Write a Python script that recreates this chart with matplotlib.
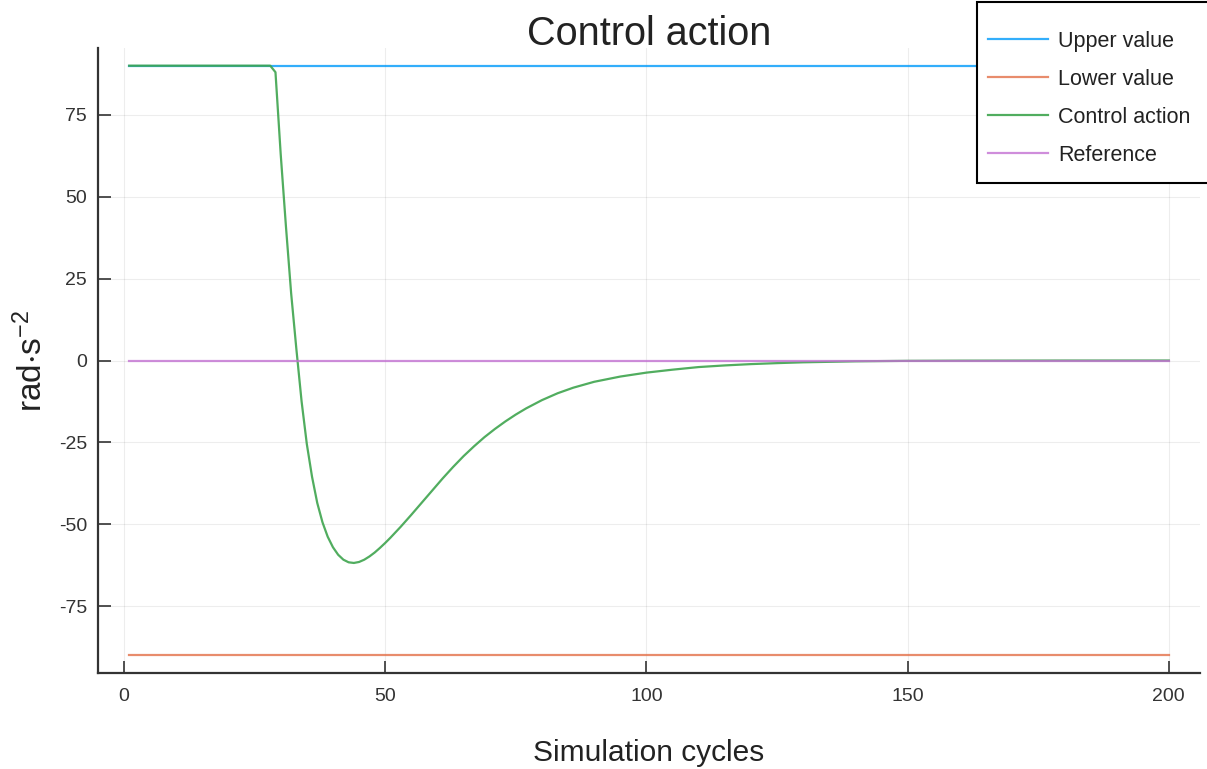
import matplotlib
matplotlib.use("Agg")
import matplotlib.pyplot as plt
from matplotlib.patches import Rectangle

plt.rcParams["font.family"] = ["Liberation Sans", "DejaVu Sans"]
plt.rcParams["mathtext.default"] = "regular"
plt.rcParams["axes.unicode_minus"] = False

# simulation cycles
cycles = list(range(1, 201))

upper_value = [90] * 200
lower_value = [-90] * 200
reference = [0] * 200

# control action at selected cycles
ctrl_x = [1, 28, 29, 30, 31, 32, 33, 34, 35, 36, 37, 38, 39, 40, 41, 42, 43, 44,
          45, 46, 47, 48, 49, 50, 51, 53, 55, 57, 59, 61, 63, 65, 67, 69, 71, 73,
          75, 77, 80, 83, 86, 90, 95, 100, 105, 110, 115, 120, 125, 130, 140,
          150, 160, 180, 200]
ctrl_y = [90, 90, 88, 63, 41, 20.5, 3.5, -12.5, -25.5, -35.5, -43.5, -49.4,
          -53.8, -57, -59.3, -60.8, -61.6, -61.8, -61.5, -60.8, -59.8, -58.6,
          -57.2, -55.7, -54.1, -50.7, -47.1, -43.4, -39.7, -36.0, -32.5, -29.2,
          -26.2, -23.4, -20.9, -18.6, -16.5, -14.6, -12.1, -10.0, -8.3, -6.5,
          -4.9, -3.7, -2.8, -2.0, -1.5, -1.1, -0.8, -0.55, -0.25, -0.1, -0.05,
          -0.01, 0]

fig = plt.figure(figsize=(12.07, 7.69), dpi=100)
ax = fig.add_axes([0.0812, 0.1248, 0.9130, 0.8128])

ax.plot(cycles, upper_value, color="#009AFA", lw=1.6, alpha=0.8, label="Upper value")
ax.plot(cycles, lower_value, color="#E36F47", lw=1.6, alpha=0.8, label="Lower value")
ax.plot(ctrl_x, ctrl_y, color="#3EA44E", lw=1.6, alpha=0.9, label="Control action")
ax.plot(cycles, reference, color="#C371D2", lw=1.6, alpha=0.8, label="Reference")

ax.set_xlim(-4.97, 205.97)
ax.set_ylim(-95.4, 95.4)
ax.set_xticks([0, 50, 100, 150, 200])
ax.set_yticks([-75, -50, -25, 0, 25, 50, 75])

ax.grid(True, color="#000000", alpha=0.07, lw=0.8)
for side in ["top", "right"]:
    ax.spines[side].set_visible(False)
for side in ["left", "bottom"]:
    ax.spines[side].set_linewidth(1.6)
    ax.spines[side].set_color("#333333")
ax.tick_params(direction="in", length=9, width=1.2, color="#333333",
               labelsize=14, labelcolor="#333333", pad=8)
ax.tick_params(axis="x", pad=11)

# fixed y so the title sits just on top of the plot area
ax.set_title("Control action", fontsize=28.5, color="#222222", y=1.004, pad=0)
ax.set_xlabel("Simulation cycles", fontsize=21.5, color="#222222", labelpad=24)
ax.set_ylabel(r"rad$\cdot$s$^{-2}$", fontsize=24, color="#222222", labelpad=7)

# legend box sits at the top right corner of the figure
leg = ax.legend(loc="upper left", bbox_to_anchor=(988 / 1207, 1 - 31 / 769),
                bbox_transform=fig.transFigure, borderaxespad=0, borderpad=0,
                frameon=False, fontsize=15.5, handlelength=2.8,
                handletextpad=0.47, labelspacing=0.79, labelcolor="#222222")
fig.add_artist(Rectangle((977 / 1207, 1 - 183 / 769), 0.2, 181 / 769,
                         transform=fig.transFigure, fill=True, facecolor="white",
                         edgecolor="black", lw=1.5, zorder=2))
leg.set_zorder(3)
fig.add_artist(leg)

fig.savefig("out.png", dpi=100)
